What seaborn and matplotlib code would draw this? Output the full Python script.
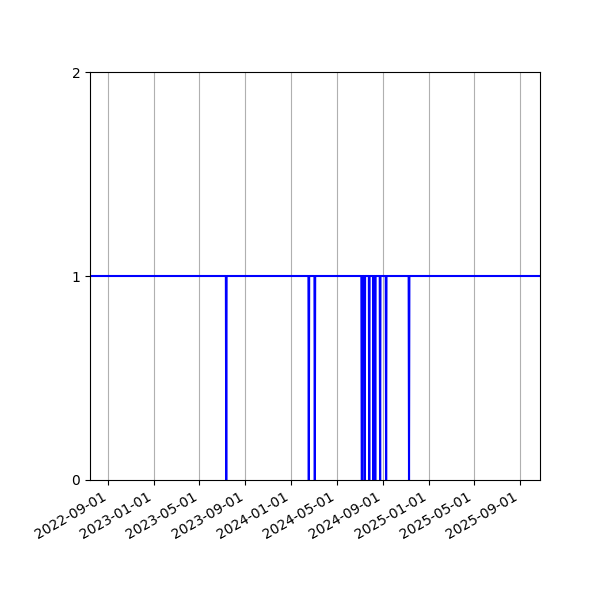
import pandas as pd
import numpy as np
import matplotlib
matplotlib.use("Agg")
import matplotlib.pyplot as plt
import matplotlib.dates as mdates
import seaborn as sns

# daily availability flag, 1 = up, 0 = down
start_date = "2022-07-14"
end_date = "2025-10-25"
down_days = [
    "2023-07-12",
    "2024-02-17",
    "2024-03-04",
    "2024-07-07", "2024-07-08",
    "2024-07-15",
    "2024-07-27",
    "2024-08-07",
    "2024-08-12",
    "2024-08-25",
    "2024-09-10",
    "2024-11-10",
]

dates = pd.date_range(start_date, end_date, freq="D")
df = pd.DataFrame({"date": dates, "value": 1})
df.loc[df["date"].isin(pd.to_datetime(down_days)), "value"] = 0

fig, ax = plt.subplots(figsize=(6, 6), dpi=100)
sns.lineplot(data=df, x="date", y="value", color="blue", linewidth=1.5, ax=ax)

ax.set_xlim(df["date"].min(), df["date"].max())
ax.set_ylim(0, 2)
ax.set_yticks([0, 1, 2])
ax.xaxis.set_major_locator(mdates.MonthLocator(bymonth=[1, 5, 9]))
ax.xaxis.set_major_formatter(mdates.DateFormatter("%Y-%m-%d"))
ax.grid(axis="x")
ax.set_xlabel("")
ax.set_ylabel("")
fig.autofmt_xdate()
fig.subplots_adjust(left=0.15)

plt.savefig("out.png")
